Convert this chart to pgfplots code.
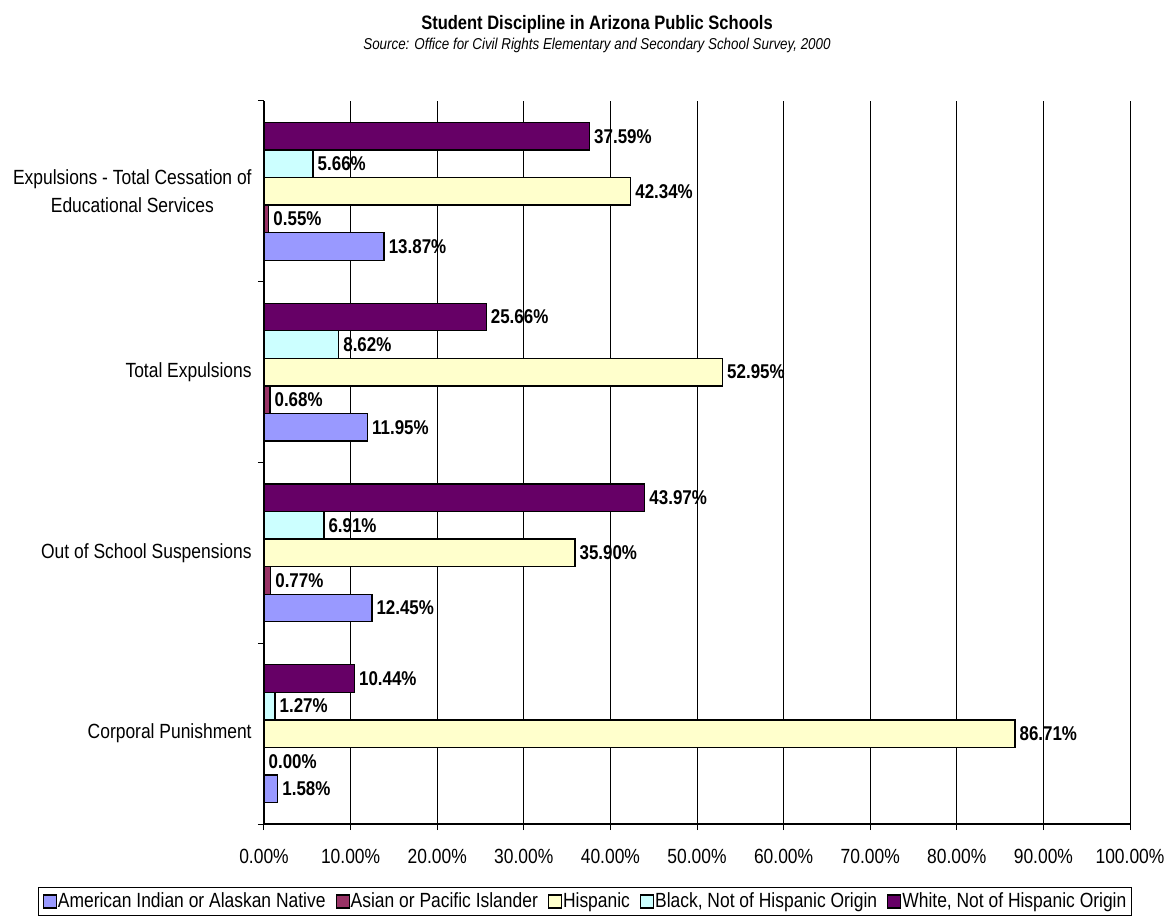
\documentclass[border=0pt]{standalone}
\usepackage{fontspec}
\setmainfont{Liberation Sans}[FakeStretch=0.85]
\usepackage{pgfplots}
\pgfplotsset{compat=1.18}
\definecolor{aian}{HTML}{9999FF}
\definecolor{asian}{HTML}{993366}
\definecolor{hisp}{HTML}{FFFFCC}
\definecolor{blk}{HTML}{CCFFFF}
\definecolor{wht}{HTML}{660066}

\begin{document}
\begin{tikzpicture}
\path[use as bounding box] (-132bp,-46bp) rectangle (453bp,412bp);
\begin{axis}[
    scale only axis,
    width=433bp, height=361.5bp,
    xbar, bar width=0.1525,
    xmin=0, xmax=100, ymin=-0.5, ymax=3.5,
    axis lines*=left,
    axis line style={-, line width=0.6bp},
    clip=false,
    /pgf/number format/assume math mode=true,
    xtick={0,10,...,100},
    xticklabel={\pgfmathprintnumber[fixed,fixed zerofill,precision=2]{\tick}\%},
    xticklabel style={font=\fontsize{10.3}{12}\selectfont, yshift=-6bp},
    xmajorgrids,
    major grid style={black, line width=0.5bp},
    tick align=outside,
    major tick length=3bp,
    tick style={black, line width=0.5bp},
    ytick={-0.5,0.5,1.5,2.5,3.5},
    yticklabels={},
    extra y ticks={0,1,2,3},
    extra y tick labels={Corporal Punishment, Out of School Suspensions, Total Expulsions, {Expulsions - Total Cessation of\\Educational Services}},
    extra y tick style={major tick length=0pt, grid=none,
        yticklabel style={align=center, font=\fontsize{10.3}{14}\selectfont, inner sep=0pt, xshift=-6bp}},
    every axis plot/.append style={draw=black, line width=0.7bp},
    point meta=x,
    nodes near coords={\pgfmathprintnumber[fixed,fixed zerofill,precision=2]{\pgfplotspointmeta}\%},
    nodes near coords style={font=\bfseries\fontsize{10}{12}\selectfont, black, anchor=west, inner sep=2bp},
    legend columns=-1,
    legend image code/.code={\draw[#1, line width=0.6bp] (0bp,-3.25bp) rectangle (6.5bp,3.25bp);},
    legend style={at={(axis description cs:0.3707,-0.0871)}, anchor=north,
        draw=black, line width=0.5bp, font=\fontsize{10.3}{12}\selectfont,
        inner xsep=2bp, inner ysep=1.5bp,
        nodes={inner xsep=0.5bp, inner ysep=1bp},
        /tikz/every even column/.append style={column sep=4.5bp}},
]
\addplot[fill=aian, bar shift=-0.305] coordinates {(1.58,0) (12.45,1) (11.95,2) (13.87,3)};
\addlegendentry{American Indian or Alaskan Native}
\addplot[fill=asian, bar shift=-0.1525] coordinates {(0.00,0) (0.77,1) (0.68,2) (0.55,3)};
\addlegendentry{Asian or Pacific Islander}
\addplot[fill=hisp, bar shift=0] coordinates {(86.71,0) (35.90,1) (52.95,2) (42.34,3)};
\addlegendentry{Hispanic}
\addplot[fill=blk, bar shift=0.1525] coordinates {(1.27,0) (6.91,1) (8.62,2) (5.66,3)};
\addlegendentry{Black, Not of Hispanic Origin}
\addplot[fill=wht, bar shift=0.305] coordinates {(10.44,0) (43.97,1) (25.66,2) (37.59,3)};
\addlegendentry{White, Not of Hispanic Origin}

\node[font=\bfseries\fontsize{9.75}{12}\selectfont] at (rel axis cs:0.3845,1.106) {Student Discipline in Arizona Public Schools};
\node[font=\itshape\fontsize{7.9}{10}\selectfont] at (rel axis cs:0.3845,1.0775) {Source: Office for Civil Rights Elementary and Secondary School Survey, 2000};
\end{axis}
\end{tikzpicture}
\end{document}
